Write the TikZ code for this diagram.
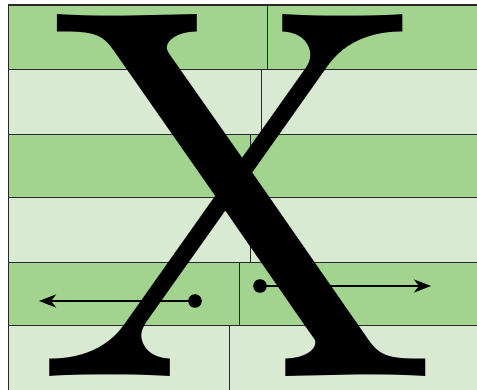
\documentclass[tikz,border=0pt]{standalone}
\usepackage{fontspec}
\newfontfamily\lmeight{lmroman8-regular.otf}
\usetikzlibrary{arrows.meta}
\definecolor{dk}{RGB}{162,212,144}
\definecolor{lt}{RGB}{217,234,211}
\definecolor{ln}{RGB}{40,40,40}
\tikzset{
  cellbox/.style={draw=ln, line width=1pt, inner sep=0pt, anchor=north west},
  arr/.style={line width=2.7pt, -{Stealth[length=17pt,width=13pt,inset=5pt]}},
  dotfill/.style={fill=black},
  bigx/.style={inner sep=0pt, anchor=base, xscale=0.96, font=\lmeight\fontsize{530}{530}\selectfont}
}
\begin{document}
\begin{tikzpicture}[x=1pt,y=-1pt]
\useasboundingbox (0,0) rectangle (477,390);
\clip (0,0) rectangle (477,390);
% bands: top, bottom, divider, colour
\foreach \i/\ya/\yb/\xd/\c in {1/5/69/267/dk, 2/69/134/261/lt, 3/134/197/249.5/dk, 4/197/262/249.5/lt, 5/262/325/239/dk, 6/325/400/229/lt}{
  \node[cellbox, fill=\c, minimum width={(\xd-8)*1pt}, minimum height={(\yb-\ya)*1pt}] (L\i) at (8,\ya) {};
  \node[cellbox, fill=\c, minimum width={(490-\xd)*1pt}, minimum height={(\yb-\ya)*1pt}] (R\i) at (\xd,\ya) {};
}
\draw[ln, line width=1.8pt] (L1.north west) -- (R1.north east);
\node[bigx] (X) at (238,377) {X};
\coordinate (d1) at (195,301);
\coordinate (t1) at (39,301);
\coordinate (d2) at (260,286);
\coordinate (t2) at (431,286);
\draw[arr] (d1) -- (t1);
\draw[arr] (d2) -- (t2);
\fill[dotfill] (d1) circle (6.8pt);
\fill[dotfill] (d2) circle (6.8pt);
\end{tikzpicture}
\end{document}
